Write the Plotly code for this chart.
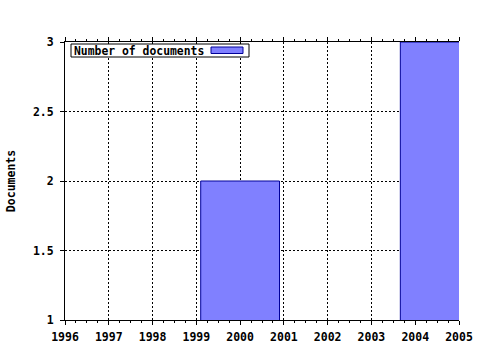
import plotly.graph_objects as go

years = [2000, 2004.56]
documents = [2, 3]
series_name = "Number of documents"
x_ticks = list(range(1996, 2006))
y_ticks = [1, 1.5, 2, 2.5, 3]
y_tick_labels = ["1", "1.5", "2", "2.5", "3"]

FONT = "DejaVu Sans Mono"
FILL = "#8080ff"
EDGE = "#000099"

fig = go.Figure()
fig.add_trace(go.Bar(
    x=years, y=documents, width=1.8, name=series_name,
    marker=dict(color=FILL, line=dict(color=EDGE, width=1)),
    showlegend=False,
))

# legend drawn as box + text + swatch (paper coords of plot area 394x278)
PW, PH = 394.0, 278.0
def px(x): return (x - 65) / PW
def py(y): return 1 - (y - 42) / PH

fig.add_shape(type="rect", xref="paper", yref="paper",
              x0=px(71), x1=px(249), y0=py(57), y1=py(44),
              fillcolor="white", line=dict(color="black", width=1), layer="above")
fig.add_shape(type="rect", xref="paper", yref="paper",
              x0=px(211), x1=px(243), y0=py(53.5), y1=py(47),
              fillcolor=FILL, line=dict(color=EDGE, width=1), layer="above")
fig.add_annotation(xref="paper", yref="paper", x=px(72), y=py(50.5),
                   xanchor="left", yanchor="middle", showarrow=False,
                   text="<b>" + series_name + "</b>",
                   font=dict(family=FONT, size=11.4, color="black"))

fig.update_layout(
    width=480, height=350,
    margin=dict(l=65, r=21, t=42, b=30, autoexpand=False),
    paper_bgcolor="white", plot_bgcolor="white",
    font=dict(family=FONT, size=11.5, color="black"),
    showlegend=False,
    xaxis=dict(
        range=[1996, 2005], tickmode="array", tickvals=x_ticks,
        ticktext=["<b>%d</b>" % v for v in x_ticks],
        showgrid=True, gridcolor="black", griddash="2px,2px", gridwidth=1,
        showline=True, linecolor="black", linewidth=1, mirror="allticks",
        ticks="outside", ticklen=4, tickcolor="black", ticklabelstandoff=2,
        minor=dict(dtick=0.25, ticks="outside", ticklen=2, tickcolor="black", showgrid=False),
        zeroline=False, automargin=False,
        tickfont=dict(family=FONT, size=11.5, color="black"),
    ),
    yaxis=dict(
        range=[1, 3], tickmode="array", tickvals=y_ticks,
        ticktext=["<b>%s</b>" % t for t in y_tick_labels],
        title=dict(text="<b>Documents</b>", font=dict(family=FONT, size=11.5, color="black"), standoff=14),
        showgrid=True, gridcolor="black", griddash="2px,2px", gridwidth=1,
        showline=True, linecolor="black", linewidth=1,
        ticks="outside", ticklen=4, tickcolor="black", ticklabelstandoff=4,
        zeroline=False, automargin=False,
        tickfont=dict(family=FONT, size=11.5, color="black"),
    ),
)

fig.write_html("out.html")
